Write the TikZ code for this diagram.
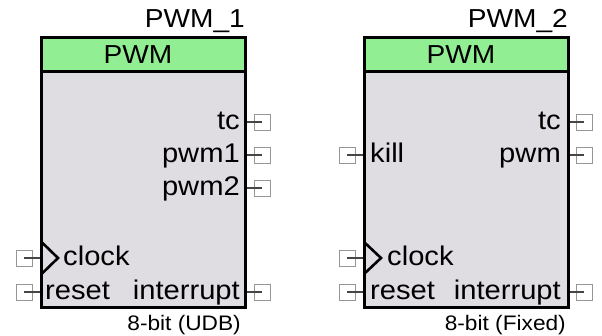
\documentclass[tikz,border=0pt]{standalone}
\usepackage{fontspec}
\setmainfont{Liberation Sans}[FakeStretch=1.08]
\definecolor{hdrc}{RGB}{146,238,146}
\definecolor{bodyc}{RGB}{223,220,226}
\definecolor{pinc}{RGB}{150,150,150}
\definecolor{pinl}{RGB}{70,70,70}
\begin{document}
\begin{tikzpicture}[x=1pt,y=-1pt,
  blk/.style={draw, line width=3pt, fill=bodyc, minimum width=204pt, minimum height=270pt, inner sep=0pt},
  hdr/.style={draw, line width=3pt, fill=hdrc, minimum width=204pt, minimum height=34pt, inner sep=0pt},
  hdrtxt/.style={inner sep=0pt, font=\fontsize{26}{30}\selectfont},
  ttl/.style={anchor=base east, inner sep=0pt, font=\fontsize{26}{30}\selectfont},
  lbl/.style={inner sep=0pt, font=\fontsize{27}{31}\selectfont},
  sub/.style={anchor=base east, inner sep=0pt, font=\fontsize{21}{25}\selectfont},
  pinsq/.style={draw=pinc, line width=0.9pt, minimum size=16pt, inner sep=0pt},
  pinline/.style={draw=pinl, line width=1.2pt},
  clk/.style={draw, line width=2.6pt, line join=miter}
]
\useasboundingbox (0,0) rectangle (602,335);

% ---------- Block 1 ----------
\node[blk] (b1) at (143.5,172.5) {};
\node[hdr] (h1) at (143.5,54.5) {};
\node[hdrtxt] (h1t) at (138,54.5) {PWM};
\node[ttl] (t1) at (245,27) {PWM\_1};
\node[sub] (s1) at (241,330) {8-bit (UDB)};

\node[pinsq] (p1tc) at (262,122) {};
\node[pinsq] (p1a) at (262,155) {};
\node[pinsq] (p1b) at (262,188) {};
\node[pinsq] (p1int) at (262,292) {};
\node[pinsq] (p1clk) at (24,258) {};
\node[pinsq] (p1rst) at (24,292) {};
\foreach \p in {p1tc,p1a,p1b,p1int} \draw[pinline] (\p.center) -- (b1.east |- \p.center);
\foreach \p in {p1clk,p1rst} \draw[pinline] (\p.center) -- (b1.west |- \p.center);

\node[lbl, anchor=base east] (l1tc) at (240,129) {tc};
\node[lbl, anchor=base east] (l1a) at (240,162) {pwm1};
\node[lbl, anchor=base east] (l1b) at (240,195) {pwm2};
\node[lbl, anchor=base east] (l1int) at (240,299) {interrupt};
\node[lbl, anchor=base west] (l1clk) at (63,265) {clock};
\node[lbl, anchor=base west] (l1rst) at (45,299) {reset};

\coordinate (c1a) at (41.5,242);
\coordinate (c1b) at (58,258);
\coordinate (c1c) at (41.5,274);
\draw[clk] (c1a) -- (c1b) -- (c1c);

% ---------- Block 2 ----------
\node[blk] (b2) at (466,172.5) {};
\node[hdr] (h2) at (466,54.5) {};
\node[hdrtxt] (h2t) at (461,54.5) {PWM};
\node[ttl] (t2) at (568,27) {PWM\_2};
\node[sub] (s2) at (566,330) {8-bit (Fixed)};

\node[pinsq] (p2tc) at (584,122) {};
\node[pinsq] (p2pwm) at (584,155) {};
\node[pinsq] (p2int) at (584,292) {};
\node[pinsq] (p2kill) at (347,155) {};
\node[pinsq] (p2clk) at (347,258) {};
\node[pinsq] (p2rst) at (347,292) {};
\foreach \p in {p2tc,p2pwm,p2int} \draw[pinline] (\p.center) -- (b2.east |- \p.center);
\foreach \p in {p2kill,p2clk,p2rst} \draw[pinline] (\p.center) -- (b2.west |- \p.center);

\node[lbl, anchor=base east] (l2tc) at (561,129) {tc};
\node[lbl, anchor=base east] (l2pwm) at (561,162) {pwm};
\node[lbl, anchor=base east] (l2int) at (561,299) {interrupt};
\node[lbl, anchor=base west] (l2kill) at (370,162) {kill};
\node[lbl, anchor=base west] (l2clk) at (387,265) {clock};
\node[lbl, anchor=base west] (l2rst) at (370,299) {reset};

\coordinate (c2a) at (364,242);
\coordinate (c2b) at (381,258);
\coordinate (c2c) at (364,274);
\draw[clk] (c2a) -- (c2b) -- (c2c);
\end{tikzpicture}
\end{document}
